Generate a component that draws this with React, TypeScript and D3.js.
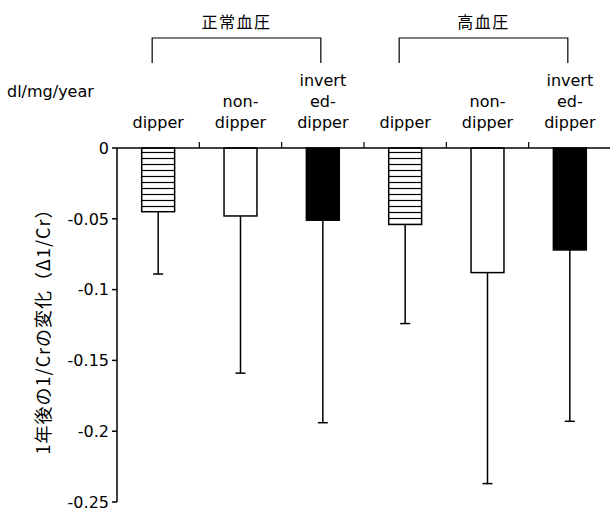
import React, { useEffect, useRef } from 'react';
import * as d3 from 'd3';

// groups and categories
const groups = ['正常血圧', '高血圧'];
const categories = ['dipper', 'non-dipper', 'inverted-dipper'];
const categoryLines = [['dipper'], ['non-', 'dipper'], ['invert', 'ed-', 'dipper']];

// mean change of 1/Cr after one year and its SD (error drawn downward)
const normalMeans = [-0.045, -0.048, -0.051];
const normalSD = [0.044, 0.111, 0.143];
const highMeans = [-0.054, -0.088, -0.072];
const highSD = [0.07, 0.149, 0.121];

const yTicks = [0, -0.05, -0.1, -0.15, -0.2, -0.25];
const yTickLabels = ['0', '-0.05', '-0.1', '-0.15', '-0.2', '-0.25'];

const App = () => {
  const svgRef = useRef<SVGSVGElement | null>(null);

  useEffect(() => {
    const W = 610;
    const H = 513;
    const svg = d3.select(svgRef.current);
    svg.selectAll('*').remove();

    const latin = 'DejaVu Sans, sans-serif';
    const cjk = '"Noto Sans CJK JP", sans-serif';

    const rows = groups.flatMap((g, gi) =>
      categories.map((c, ci) => ({
        key: `${gi}-${c}`,
        group: g,
        cat: ci,
        mean: gi === 0 ? normalMeans[ci] : highMeans[ci],
        sd: gi === 0 ? normalSD[ci] : highSD[ci],
      }))
    );

    const x = d3.scaleBand<string>()
      .domain(rows.map(d => d.key))
      .range([117, 611])
      .paddingInner(0.6)
      .paddingOuter(0.3);

    const y = d3.scaleLinear().domain([0, -0.25]).range([148, 502]);

    // hatch pattern
    const defs = svg.append('defs');
    const pat = defs.append('pattern')
      .attr('id', 'hatch')
      .attr('patternUnits', 'userSpaceOnUse')
      .attr('width', 8)
      .attr('height', 6)
      .attr('y', 148);
    pat.append('rect').attr('width', 8).attr('height', 6).attr('fill', '#fff');
    pat.append('line')
      .attr('x1', 0).attr('x2', 8).attr('y1', 4.5).attr('y2', 4.5)
      .attr('stroke', '#000').attr('stroke-width', 1.2);

    const fills = ['url(#hatch)', '#fff', '#000'];

    // error bars
    const eb = svg.append('g');
    rows.forEach(d => {
      const cx = x(d.key)! + x.bandwidth() / 2;
      eb.append('line')
        .attr('x1', cx).attr('x2', cx)
        .attr('y1', y(d.mean)).attr('y2', y(d.mean - d.sd))
        .attr('stroke', '#000').attr('stroke-width', 1.5);
      eb.append('line')
        .attr('x1', cx - 5).attr('x2', cx + 5)
        .attr('y1', y(d.mean - d.sd)).attr('y2', y(d.mean - d.sd))
        .attr('stroke', '#000').attr('stroke-width', 1.5);
    });

    // bars
    svg.append('g')
      .selectAll('rect')
      .data(rows)
      .enter()
      .append('rect')
      .attr('x', d => x(d.key)!)
      .attr('y', y(0))
      .attr('width', x.bandwidth())
      .attr('height', d => y(d.mean) - y(0))
      .attr('fill', d => fills[d.cat])
      .attr('stroke', '#000')
      .attr('stroke-width', 1.5);

    // x axis line with upward ticks at category boundaries
    const ax = svg.append('g');
    ax.append('line')
      .attr('x1', 117).attr('x2', W)
      .attr('y1', y(0)).attr('y2', y(0))
      .attr('stroke', '#000').attr('stroke-width', 1.5);
    rows.slice(1).forEach(d => {
      const bx = x(d.key)! - (x.step() * x.paddingInner()) / 2;
      ax.append('line')
        .attr('x1', bx).attr('x2', bx)
        .attr('y1', y(0)).attr('y2', y(0) - 6)
        .attr('stroke', '#000').attr('stroke-width', 1.2);
    });

    // y axis
    ax.append('line')
      .attr('x1', 117).attr('x2', 117)
      .attr('y1', y(0)).attr('y2', y(-0.25))
      .attr('stroke', '#000').attr('stroke-width', 1.5);
    yTicks.forEach((t, i) => {
      ax.append('line')
        .attr('x1', 112).attr('x2', 117)
        .attr('y1', y(t)).attr('y2', y(t))
        .attr('stroke', '#000').attr('stroke-width', 1.5);
      ax.append('text')
        .attr('x', 109)
        .attr('y', y(t))
        .attr('dy', '0.36em')
        .attr('text-anchor', 'end')
        .style('font-family', latin)
        .style('font-size', '16px')
        .text(yTickLabels[i]);
    });

    // y axis title
    svg.append('text')
      .attr('transform', `translate(42,${(y(0) + y(-0.25)) / 2 + 2}) rotate(-90)`)
      .attr('text-anchor', 'middle')
      .attr('dominant-baseline', 'central')
      .style('font-family', cjk)
      .style('font-size', '18px')
      .style('letter-spacing', '1px')
      .text('1年後の1/Crの変化（Δ1/Cr）');

    svg.append('text')
      .attr('x', 7).attr('y', 97)
      .style('font-family', latin)
      .style('font-size', '16px')
      .text('dl/mg/year');

    // category labels, bottom aligned
    rows.forEach(d => {
      const cx = x(d.key)! + x.bandwidth() / 2;
      const lines = categoryLines[d.cat];
      lines.forEach((ln, li) => {
        svg.append('text')
          .attr('x', cx)
          .attr('y', 128 - (lines.length - 1 - li) * 21)
          .attr('text-anchor', 'middle')
          .style('font-family', latin)
          .style('font-size', '16px')
          .text(ln);
      });
    });

    // group brackets
    groups.forEach((g, gi) => {
      const first = rows[gi * 3];
      const last = rows[gi * 3 + 2];
      const x1 = x(first.key)! + x.bandwidth() / 2 - 6;
      const x2 = x(last.key)! + x.bandwidth() / 2 - 2;
      svg.append('path')
        .attr('d', `M${x1},63V38H${x2}V63`)
        .attr('fill', 'none')
        .attr('stroke', '#000')
        .attr('stroke-width', 1.2);
      svg.append('text')
        .attr('x', (x1 + x2) / 2)
        .attr('y', 28)
        .attr('text-anchor', 'middle')
        .style('font-family', cjk)
        .style('font-size', '16px')
        .style('letter-spacing', '1.5px')
        .text(g);
    });

    svg.attr('width', W).attr('height', H);
  }, []);

  return (
    <svg
      ref={svgRef}
      width={610}
      height={513}
      style={{ position: 'absolute', left: 0, top: 0, background: '#fff' }}
    ></svg>
  );
};

export default App;
